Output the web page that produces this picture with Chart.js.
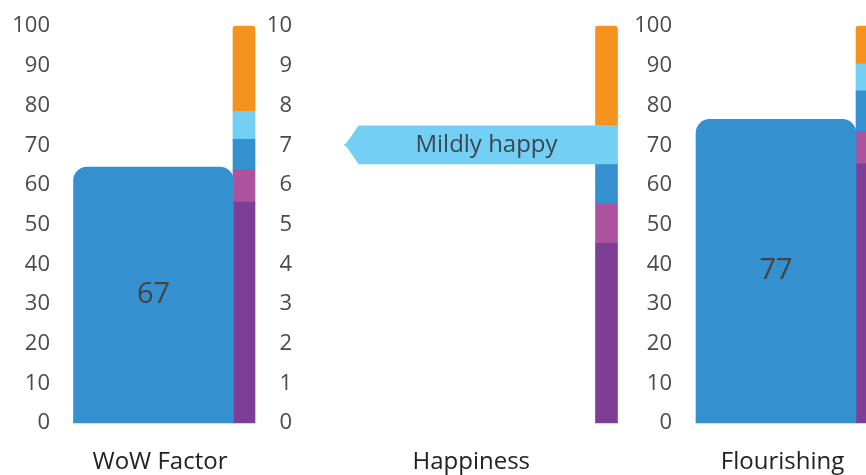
<!DOCTYPE html>
<html>
<head>
<meta charset="utf-8">
<script src="https://cdn.jsdelivr.net/npm/chart.js@4/dist/chart.umd.min.js"></script>
<style>
    html, body { margin: 0; padding: 0; background: #fff; overflow: hidden; }
    #wrap { position: relative; width: 866px; height: 475px; overflow: hidden; }
    canvas { position: absolute; top: 0; }
</style>
</head>
<body>
<div id="wrap">
    <canvas id="panel0"></canvas>
    <canvas id="panel1"></canvas>
    <canvas id="panel2"></canvas>
</div>
<script>
// Chart data
const categories = ['WoW Factor', 'Happiness', 'Flourishing'];
const scores = [64.5, null, 76.5];          // drawn height of the big bar
const scoreLabels = ['67', '', '77'];       // text printed in the bar
const scoreTicks = [0, 10, 20, 30, 40, 50, 60, 70, 80, 90, 100];
const happyTicks = [0, 1, 2, 3, 4, 5, 6, 7, 8, 9, 10];

// Stacked band segments (0-10 scale), bottom to top
const purpleBand = [5.57, 4.53, 6.53];
const pinkBand = [0.81, 0.99, 0.82];
const blueBand = [0.77, 1.0, 1.02];
const lightBlueBand = [0.7, 0.98, 0.68];
const orangeBand = [2.15, 2.5, 0.95];

const happyLabel = 'Mildly happy';
const happyBand = 3;   // light blue band carries the label

Chart.defaults.font.family = "'Open Sans', sans-serif";
Chart.defaults.font.size = 22;

const bands = [
    { values: purpleBand, color: '#7f3e96' },
    { values: pinkBand, color: '#ad539e' },
    { values: blueBand, color: '#3590cf' },
    { values: lightBlueBand, color: '#73cff3' },
    { values: orangeBand, color: '#f6931e' }
];

// canvas placement per panel
const panelLayout = [
    { left: 0, width: 262, axisWidth: 63, padRight: 18, labelOffset: 6.5 },
    { left: 262, width: 362, axisWidth: 43, padRight: 17.5, labelOffset: 15.5 },
    { left: 624, width: 262, axisWidth: 61, padRight: 19, labelOffset: 6.5 }
];

/**
 * Print the score inside the big bar
 */
const scoreTextPlugin = {
    id: 'scoreText',
    afterDatasetsDraw(chart, args, opts) {
        const text = opts.text;
        if (!text) return;
        const bar = chart.getDatasetMeta(0).data[0];
        if (!bar) return;
        const ctx = chart.ctx;
        ctx.save();
        ctx.font = "29px 'Open Sans', sans-serif";
        ctx.fillStyle = '#444444';
        ctx.textAlign = 'center';
        ctx.textBaseline = 'middle';
        ctx.fillText(text, bar.x, (bar.y + bar.base) / 2);
        ctx.restore();
    }
};

/**
 * Arrow shaped label coming out of one band
 */
const bandLabelPlugin = {
    id: 'bandLabel',
    afterDatasetsDraw(chart, args, opts) {
        if (!opts.text) return;
        const seg = chart.getDatasetMeta(1 + opts.band).data[0];
        const top = seg.y;
        const bottom = seg.base;
        const mid = (top + bottom) / 2;
        const right = seg.x + seg.width / 2;
        const boxLeft = right - 259;
        const tip = boxLeft - 15;
        const ctx = chart.ctx;
        ctx.save();
        ctx.fillStyle = bands[opts.band].color;
        ctx.beginPath();
        ctx.moveTo(right, top);
        ctx.lineTo(boxLeft, top);
        ctx.quadraticCurveTo(boxLeft - 7, mid - 9, tip + 3, mid - 2);
        ctx.lineTo(tip, mid);
        ctx.lineTo(tip + 3, mid + 2);
        ctx.quadraticCurveTo(boxLeft - 7, mid + 9, boxLeft, bottom);
        ctx.lineTo(right, bottom);
        ctx.closePath();
        ctx.fill();
        ctx.font = "24px 'Open Sans', sans-serif";
        ctx.fillStyle = '#3d4650';
        ctx.textAlign = 'center';
        ctx.textBaseline = 'middle';
        ctx.fillText(opts.text, right - 131, mid);
        ctx.restore();
    }
};

function createPanel(i) {
    const canvas = document.getElementById('panel' + i);
    const lay = panelLayout[i];
    canvas.width = lay.width;
    canvas.height = 475;
    canvas.style.left = lay.left + 'px';
    canvas.style.width = lay.width + 'px';
    canvas.style.height = '475px';

    const isHappy = i === 1;
    const ticks = isHappy ? happyTicks : scoreTicks;

    const datasets = [{
        label: categories[i],
        data: [scores[i]],
        xAxisID: 'x',
        yAxisID: 'y',
        stack: 'score',
        grouped: false,
        barThickness: 160,
        backgroundColor: '#3590cf',
        borderRadius: { topLeft: 14, topRight: 14, bottomLeft: 0, bottomRight: 0 },
        borderSkipped: 'start',
        clip: false
    }];

    bands.forEach((band, k) => {
        const isTop = k === bands.length - 1;
        datasets.push({
            data: [band.values[i]],
            xAxisID: 'xs',
            yAxisID: isHappy ? 'y' : 'ys',
            stack: 'bands',
            grouped: false,
            barThickness: 22,
            backgroundColor: band.color,
            borderWidth: 0,
            borderRadius: isTop ? { topLeft: 3, topRight: 3, bottomLeft: 0, bottomRight: 0 } : 0,
            borderSkipped: 'start',
            clip: false
        });
    });

    const scales = {
        x: {
            type: 'category',
            labels: [categories[i]],
            offset: true,
            grid: { display: false, drawTicks: false },
            border: { display: false },
            ticks: {
                color: '#222222',
                font: { size: 24 },
                padding: 25,
                labelOffset: lay.labelOffset,
                maxRotation: 0
            },
            afterFit: s => { s.height = 52; }
        },
        xs: {
            type: 'category',
            labels: [categories[i]],
            offset: false,
            reverse: true,
            display: false
        },
        y: {
            stacked: true,
            min: ticks[0],
            max: ticks[ticks.length - 1],
            grid: { display: false, drawTicks: false },
            border: { display: false },
            ticks: {
                color: '#4a4a4a',
                padding: 13,
                stepSize: ticks[1] - ticks[0]
            },
            afterFit: s => { s.width = lay.axisWidth; }
        }
    };
    if (!isHappy) {
        scales.ys = {
            stacked: true,
            min: happyTicks[0],
            max: happyTicks[happyTicks.length - 1],
            display: false
        };
    }

    return new Chart(canvas, {
        type: 'bar',
        data: { datasets: datasets },
        options: {
            responsive: false,
            animation: false,
            layout: { padding: { top: 23, right: lay.padRight, left: 0, bottom: 0 } },
            plugins: {
                legend: { display: false },
                tooltip: { enabled: false },
                scoreText: { text: scoreLabels[i] },
                bandLabel: { text: isHappy ? happyLabel : '', band: happyBand }
            },
            scales: scales
        },
        plugins: [scoreTextPlugin, bandLabelPlugin]
    });
}

categories.forEach((c, i) => createPanel(i));
</script>
</body>
</html>
